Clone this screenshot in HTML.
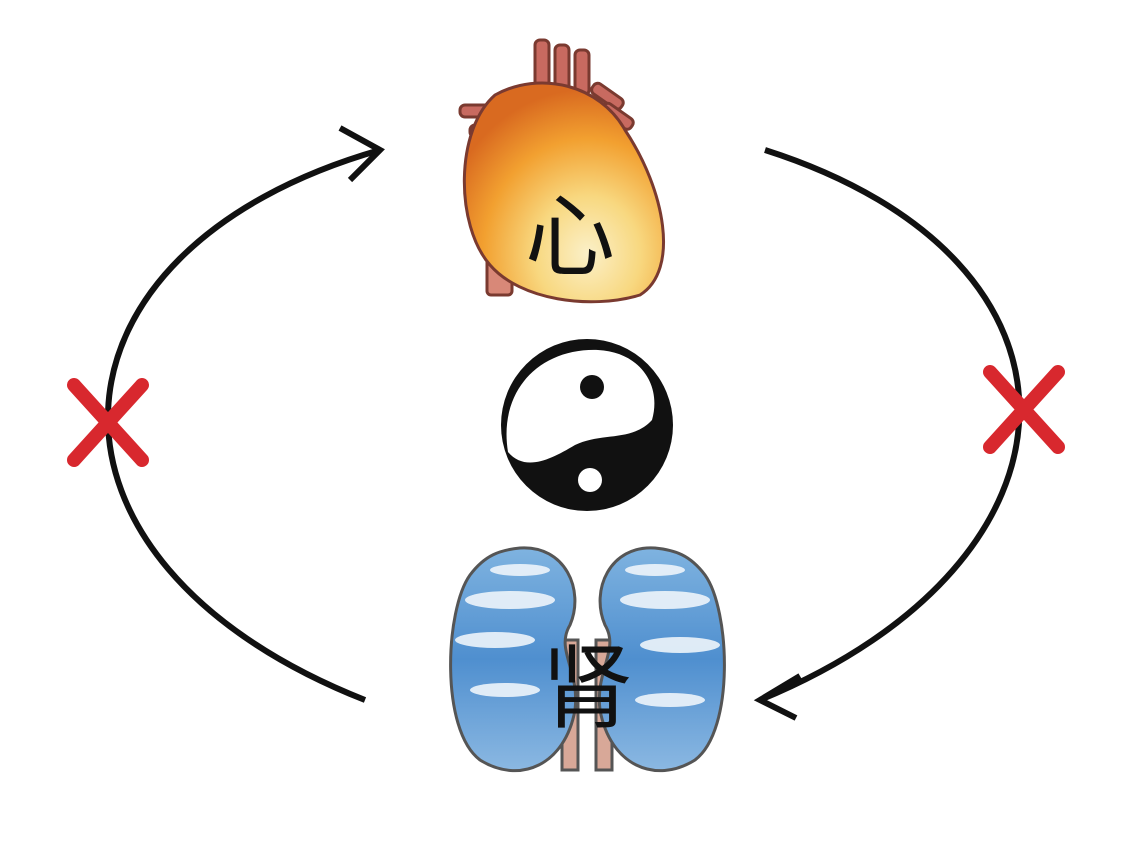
<!DOCTYPE html>
<html><head><meta charset="utf-8"><style>
html,body{margin:0;padding:0;background:#fff;width:1126px;height:849px;overflow:hidden}
svg{display:block}
text{font-family:"Liberation Sans","Noto Sans CJK SC",sans-serif}
</style></head><body>
<svg width="1126" height="849" viewBox="0 0 1126 849">
<defs>
<radialGradient id="fire" cx="0.62" cy="0.78" r="0.75">
<stop offset="0" stop-color="#fbf0c8"/><stop offset="0.35" stop-color="#f8d880"/><stop offset="0.7" stop-color="#f2a030"/><stop offset="1" stop-color="#d96a20"/>
</radialGradient>
<linearGradient id="water" x1="0" y1="0" x2="0" y2="1">
<stop offset="0" stop-color="#7fb3e0"/><stop offset="0.5" stop-color="#4f8fcf"/><stop offset="1" stop-color="#8bb8e2"/>
</linearGradient>
</defs>
<path d="M365,700 C10,560 30,250 380,150" fill="none" stroke="#111" stroke-width="6"/>
<path d="M340,128 L380,150 L350,180" fill="none" stroke="#111" stroke-width="6"/>
<path d="M765,150 C1110,260 1100,560 760,700" fill="none" stroke="#111" stroke-width="6"/>
<path d="M800,676 L760,700 L796,718" fill="none" stroke="#111" stroke-width="6"/>
<g stroke="#d8282e" stroke-width="14" stroke-linecap="round">
<line x1="74" y1="385" x2="142" y2="460"/><line x1="142" y1="385" x2="74" y2="460"/>
<line x1="990" y1="372" x2="1058" y2="447"/><line x1="1058" y1="372" x2="990" y2="447"/>
</g>
<g stroke="#7a3a30" stroke-width="3">
<rect x="460" y="105" width="50" height="12" rx="5" fill="#c86a60"/>
<rect x="470" y="125" width="45" height="12" rx="5" fill="#c86a60"/>
<rect x="535" y="40" width="14" height="50" rx="5" fill="#c86a60"/>
<rect x="555" y="45" width="14" height="45" rx="5" fill="#c86a60"/>
<rect x="575" y="50" width="14" height="45" rx="5" fill="#c86a60"/>
<rect x="590" y="90" width="35" height="12" rx="5" fill="#c86a60" transform="rotate(35 607 96)"/>
<rect x="600" y="110" width="35" height="12" rx="5" fill="#c86a60" transform="rotate(35 617 116)"/>
<rect x="487" y="245" width="25" height="50" rx="4" fill="#d88878"/>
<path d="M495,95 C540,70 600,85 625,130 C665,190 680,270 640,295 C590,310 520,300 490,265 C455,225 455,130 495,95 Z" fill="url(#fire)"/>
</g>
<text x="570" y="268" font-size="90" text-anchor="middle" fill="#111">心</text>
<circle cx="587" cy="425" r="86" fill="#111"/>
<path d="M508,452 C498,390 540,348 598,350 C640,352 662,385 652,420 C632,442 602,432 575,445 C550,460 525,472 508,452 Z" fill="#fff"/>
<circle cx="592" cy="387" r="12" fill="#111"/>
<circle cx="590" cy="480" r="12" fill="#fff"/>
<g stroke="#555" stroke-width="3">
<rect x="562" y="640" width="16" height="130" fill="#d8a898"/>
<rect x="596" y="640" width="16" height="130" fill="#d8a898"/>
<path d="M520,548 C565,545 585,590 570,625 C555,650 580,670 575,710 C565,765 520,785 480,760 C440,730 445,610 470,575 C485,555 500,550 520,548 Z" fill="url(#water)"/>
<path d="M655,548 C610,545 590,590 605,625 C620,650 595,670 600,710 C610,765 655,785 695,760 C735,730 730,610 705,575 C690,555 675,550 655,548 Z" fill="url(#water)"/>
</g>
<g fill="#eef5fb" opacity="0.9">
<ellipse cx="510" cy="600" rx="45" ry="9"/><ellipse cx="665" cy="600" rx="45" ry="9"/>
<ellipse cx="495" cy="640" rx="40" ry="8"/><ellipse cx="680" cy="645" rx="40" ry="8"/>
<ellipse cx="505" cy="690" rx="35" ry="7"/><ellipse cx="670" cy="700" rx="35" ry="7"/>
<ellipse cx="520" cy="570" rx="30" ry="6"/><ellipse cx="655" cy="570" rx="30" ry="6"/>
</g>
<text x="587" y="720" font-size="92" text-anchor="middle" fill="#111">肾</text>
</svg>
</body></html>
